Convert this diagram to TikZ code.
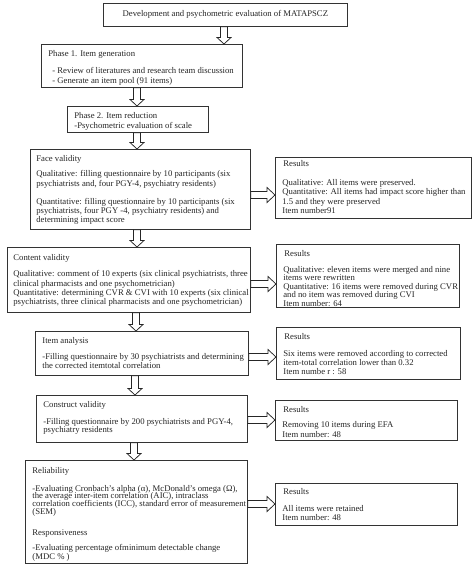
\documentclass[tikz,border=0pt]{standalone}
\usepackage{fontspec}
\setmainfont{Liberation Serif}
\usetikzlibrary{calc}
\tikzset{
  box/.style={draw=black!80, line width=0.75pt, fill=white, inner sep=0pt,
    text=black!85, font=\fontsize{8.7}{9}\selectfont},
  barrow/.style={draw=black!85, line width=0.75pt, fill=white, line join=miter},
}
% name, x, y, w, h, padx, pady, text
\newcommand{\mybox}[8]{%
  \node[box, anchor=north west] (#1) at (#2,#3)
    {\makebox[#4pt][l]{\parbox[c][#5pt][t]{600pt}{\raggedright\leftskip=#6pt\relax\vspace*{#7pt}#8\par}}};}
% x, from, to
\newcommand{\darrow}[3]{%
  \draw[barrow] let \p1=(#2.south), \p2=(#3.north) in
    ({#1pt-3.4pt},\y1) -- ({#1pt+3.4pt},\y1) -- ({#1pt+3.4pt},{\y2+6.5pt})
    -- ({#1pt+7pt},{\y2+6.5pt}) -- ({#1pt},\y2) -- ({#1pt-7pt},{\y2+6.5pt})
    -- ({#1pt-3.4pt},{\y2+6.5pt}) -- cycle;}
% y, from, to
\newcommand{\harrow}[3]{%
  \draw[barrow] let \p1=(#2.east), \p2=(#3.west) in
    (\x1,{-#1pt+3.4pt}) -- ({\x2-8pt},{-#1pt+3.4pt}) -- ({\x2-8pt},{-#1pt+7.5pt})
    -- (\x2,{-#1pt}) -- ({\x2-8pt},{-#1pt-7.5pt}) -- ({\x2-8pt},{-#1pt-3.4pt})
    -- (\x1,{-#1pt-3.4pt}) -- cycle;}
\begin{document}
\begin{tikzpicture}[x=1pt,y=-1pt]
\useasboundingbox (0,0) rectangle (474,570);
\fill[white] (0,0) rectangle (474,570);

\node[box, anchor=north west, minimum width=244pt, minimum height=23pt] (title) at (103,3)
  {Development and psychometric evaluation of MATAPSCZ};

\mybox{p1}{41}{44}{201}{43}{7}{6.3}{Phase 1. Item generation\\[8pt]
\hspace*{4pt}- Review of literatures and research team discussion\\[1pt]
\hspace*{4pt}- Generate an item pool (91 items)}

\mybox{p2}{67}{106}{141}{26}{7}{5.6}{Phase 2. Item reduction\\[1pt]
-Psychometric evaluation of scale}

\mybox{face}{30}{149}{220}{80}{6}{6.4}{Face validity\\[6pt]
Qualitative: filling questionnaire by 10 participants (six\\[0.8pt]
psychiatrists and, four PGY-4, psychiatry residents)\\[8.4pt]
Quantitative: filling questionnaire by 10 participants (six\\[0.5pt]
psychiatrists, four PGY -4, psychiatry residents) and\\[0.3pt]
determining impact score}

\mybox{res1}{275}{157}{196}{61}{7}{3}{\hspace*{1pt}Results\\[10pt]
Qualitative: All items were preserved.\\[0.5pt]
Quantitative: All items had impact score higher than\\[0.5pt]
1.5 and they were preserved\\[0.5pt]
Item number91}

\mybox{content}{7}{247}{243}{65}{6}{7.3}{Content validity\\[7pt]
Qualitative: comment of 10 experts (six clinical psychiatrists, three\\[0.3pt]
clinical pharmacists and one psychometrician)\\[0.3pt]
Quantitative: determining CVR \& CVI with 10 experts (six clinical\\[0.3pt]
psychiatrists, three clinical pharmacists and one psychometrician)}

\mybox{res2}{276}{244}{183}{63}{7}{6.3}{\hspace*{1pt}Results\\[6.5pt]
Qualitative: eleven items were merged and nine\\[-0.5pt]
items were rewritten\\[-0.5pt]
Quantitative: 16 items were removed during CVR\\[-0.5pt]
and no item was removed during CVI\\[-0.5pt]
Item number: 64}

\mybox{item}{35}{331}{213}{44}{7}{5.6}{Item analysis\\[7.7pt]
-Filling questionnaire by 30 psychiatrists and determining\\[0pt]
the corrected itemtotal correlation}

\mybox{res3}{276}{327}{184}{52}{7}{6.3}{\hspace*{1pt}Results\\[7.7pt]
Six items were removed according to corrected\\[0pt]
item-total correlation lower than 0.32\\[0pt]
Item numbe r : 58}

\mybox{construct}{36}{395}{211}{47}{7}{6.3}{Construct validity\\[7.7pt]
-Filling questionnaire by 200 psychiatrists and PGY-4,\\[-0.5pt]
psychiatry residents}

\mybox{res4}{275}{400}{182}{40}{7}{5.6}{\hspace*{1pt}Results\\[6.7pt]
Removing 10 items during EFA\\[0.3pt]
Item number: 48}

\mybox{rel}{25}{460}{222}{103}{7}{7.3}{Reliability\\[8.3pt]
-Evaluating Cronbach's alpha (α), McDonald's omega (Ω),\\[-1.1pt]
the average inter-item correlation (AIC), intraclass\\[-1.1pt]
correlation coefficients (ICC), standard error of measurement\\[-1.1pt]
(SEM)\\[11.3pt]
Responsiveness\\[6.7pt]
-Evaluating percentage ofminimum detectable change\\[-0.7pt]
(MDC \% )}

\mybox{res5}{275}{483}{182}{42}{7}{5.3}{\hspace*{1pt}Results\\[8pt]
All items were retained\\[0pt]
Item number: 48}

\darrow{224}{title}{p1}
\darrow{137}{p1}{p2}
\darrow{137}{p2}{face}
\darrow{137}{face}{content}
\darrow{136}{content}{item}
\darrow{135}{item}{construct}
\darrow{134}{construct}{rel}

\harrow{195}{face}{res1}
\harrow{284}{content}{res2}
\harrow{357}{item}{res3}
\harrow{420}{construct}{res4}
\harrow{504}{rel}{res5}
\end{tikzpicture}
\end{document}
